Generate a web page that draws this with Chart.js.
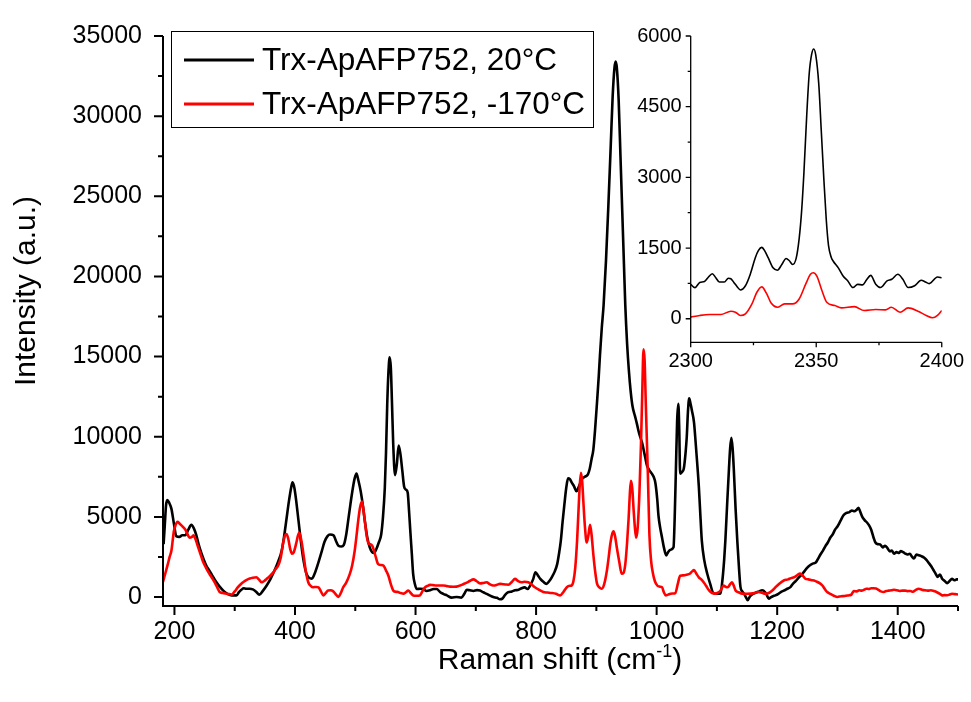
<!DOCTYPE html>
<html>
<head>
<meta charset="utf-8">
<title>Trx-ApAFP752 Raman spectra</title>
<script src="https://cdn.jsdelivr.net/npm/chart.js@4.4.1/dist/chart.umd.min.js"></script>
<style>
  body { margin: 0; background: #fff; }
  #wrap { position: relative; width: 971px; height: 702px; }
  #main { position: absolute; left: 0; top: 0; }
  #inset { position: absolute; left: 620px; top: 15px; }
</style>
</head>
<body>
<div id="wrap">
  <canvas id="main" width="971" height="702"></canvas>
  <canvas id="inset" width="351" height="360"></canvas>
</div>
<script>
// series labels
var seriesNames = ["Trx-ApAFP752, 20°C", "Trx-ApAFP752, -170°C"];

// main spectrum, 20 C (black)
var blackShift = [182,184,186,188,191,195,199,203,208,213,218,223,228,232,236,240,245,249,253,257,261,265,270,275,281,288,295,303,307,311,315,319,325,330,335,341,347,353,359,366,372,378,382,386,390,394,396,399,402,406,411,415,419,423,428,433,438,444,449,454,458,464,468,472,477,481,485,488,492,496,499,502,505,509,513,516,520,524,528,531,535,539,543,546,549,551,553,555,557,559,561,563,566,569,572,575,578,581,584,587,589,591,594,596,599,602,608,613,618,624,630,635,641,646,652,660,668,676,681,685,690,696,702,707,712,718,723,729,735,740,744,749,754,760,765,771,776,781,786,790,795,799,803,807,812,817,822,826,831,835,838,841,844,847,850,853,856,859,863,867,871,876,881,886,889,892,895,898,901,904,906,909,912,916,920,924,927,930,932,934,937,940,943,946,948,951,954,957,960,964,967,971,976,980,984,988,992,995,998,1001,1003,1006,1009,1012,1016,1019,1023,1028,1030,1032,1034,1036,1037.5,1039,1042,1045,1048,1050,1052,1054,1056,1059,1062,1064,1067,1070,1072,1075,1079,1084,1089,1094,1100,1106,1109,1112,1114,1117,1120,1122,1124,1126,1128,1131,1134,1137,1139,1142,1145,1148,1151,1155,1158,1161,1166,1170,1175,1180,1183,1186,1190,1193,1197,1202,1206,1211,1216,1222,1226,1231,1236,1241,1245,1250,1255,1260,1264,1268,1272,1276,1280,1284,1288,1292,1296,1300,1305,1310,1315,1320,1324,1328,1332,1335,1338,1341,1345,1349,1352,1356,1360,1363,1367,1371,1375,1379,1383,1387,1390,1394,1398,1402,1405,1409,1413,1416,1420,1424,1427,1431,1435,1439,1444,1448,1452,1455,1459,1463,1466,1470,1474,1478,1482,1486,1490,1494,1498,1500];
var blackIntensity = [3300,4500,5700,6050,5900,5500,4600,3800,3750,3850,3850,4200,4500,4300,3900,3300,2700,2300,1950,1700,1450,1200,900,650,400,200,100,100,300,450,550,520,520,480,350,150,400,720,1100,1650,2200,2900,3800,4900,6000,6900,7150,6800,6000,4700,3100,2100,1450,1200,1150,1500,2050,2800,3450,3800,3900,3850,3500,3200,3150,3250,3900,4700,5800,6800,7400,7700,7300,6600,5600,4700,3700,3100,2800,2750,3000,3400,3900,5000,6800,9000,12000,14000,14950,14300,12000,9500,7600,8300,9450,8900,7900,6900,6700,6500,5500,4300,2600,1450,800,500,520,500,380,420,500,500,300,200,100,-40,0,-40,200,450,420,380,430,410,300,200,100,0,-50,-140,-100,150,300,350,420,450,550,600,500,700,1100,1550,1350,1130,950,820,1000,1230,1600,2050,2700,3500,4700,5800,6800,7400,7350,7150,6900,6600,6900,7350,7500,7650,8000,8600,9200,10500,12100,13800,15100,16800,18200,21000,24500,28300,31200,33000,33400,33000,31000,27500,24000,20500,18200,15800,14100,12800,11900,11300,10850,10200,9600,8900,8200,7900,7700,7500,7100,6100,5100,4300,3700,3100,2600,2800,2950,3100,5000,8000,11000,12050,10500,7700,7800,8000,9000,10000,11600,12400,12100,11550,10900,10000,8500,6900,5500,3500,2300,1450,800,250,200,220,1000,2300,3500,5800,8000,9300,9930,9300,8000,5500,3400,1600,650,350,200,0,-200,50,150,210,300,350,420,300,100,-100,0,50,100,200,310,400,500,620,820,1000,1230,1400,1600,1840,2000,2100,2150,2400,2670,2900,3180,3400,3700,3900,4200,4400,4750,5100,5250,5300,5400,5350,5450,5570,5300,5020,4800,4650,4500,4200,3700,3400,3300,3280,3100,3200,3050,2850,2900,2700,2800,2750,2870,2800,2700,2650,2700,2500,2400,2650,2600,2550,2450,2300,2100,1950,1700,1450,1250,1400,1130,1000,870,1000,1130,1050,1100,1100];

// main spectrum, -170 C (red)
var redShift = [181,185,189,192,195,197,199,202,205,208,212,216,219,222,225,229,232,235,239,243,247,252,258,263,267,271,275,280,286,291,295,300,305,310,315,320,325,330,336,340,345,349,353,358,364,368,372,376,380,383,386,389,392,395,398,402,405,407,409,412,415,418,422,426,430,435,439,443,447,451,455,459,463,467,472,476,480,485,491,495,499,502,505,508,511,513,516,519,522,525,528,531,534,538,542,547,551,555,559,563,567,571,575,580,584,588,592,596,601,607,612,616,620,624,629,635,641,646,652,657,663,668,674,679,685,690,696,701,707,712,718,723,729,735,740,745,750,754,760,765,770,776,781,787,792,798,805,812,819,826,833,840,845,851,856,859,862,865,868,870.5,872.5,874.5,876.5,878.5,881,884,887,889.5,892,895,898,901,905,909,913,917.5,920.5,923,926,928.5,931,934,938,942,945,948,951,953.5,955.5,957.3,959.5,961.7,964,966,968.5,971.5,974,976,978.2,980,982,984,985.5,988,991,994,997,1001,1005,1009,1012,1015,1019,1023,1027,1031,1035,1039,1044,1050,1055,1059,1062,1066,1070,1074,1078,1082,1087,1092,1098,1102,1106,1111,1115,1118,1122,1125,1128,1131,1136,1142,1149,1156,1163,1169,1175,1180,1186,1192,1197,1203,1211,1218,1223,1228,1233,1238,1243,1247,1252,1257,1261,1266,1271,1275,1279,1283,1288,1294,1300,1306,1312,1318,1323,1327,1332,1336,1340,1344,1348,1352,1356,1360,1364,1368,1372,1377,1381,1385,1390,1394,1399,1403,1408,1412,1416,1421,1425,1430,1435,1440,1445,1450,1455,1460,1465,1470,1474,1478,1482,1486,1490,1495,1500];
var redIntensity = [950,1500,2050,2500,2900,3500,4100,4500,4700,4600,4450,4300,4150,3900,3700,3750,3850,3600,3150,2700,2250,1850,1440,1150,900,600,310,250,200,180,150,350,600,800,950,1070,1150,1200,1230,1100,920,1000,1130,1300,1540,1750,1950,2400,3300,3800,3930,3600,3000,2700,2800,3350,3850,4000,3800,3200,2400,1600,920,700,610,630,600,350,100,250,410,420,370,200,0,250,610,900,1440,2000,2870,3800,4800,5600,5950,5600,4700,3800,3350,3300,3200,2900,2500,2050,2000,1950,1650,1330,800,410,330,310,250,210,300,410,250,100,80,100,400,610,700,760,740,720,720,720,680,650,640,650,720,800,900,1000,1100,1000,850,880,920,800,720,760,820,800,780,770,950,1130,1000,920,950,920,800,610,450,310,280,250,200,100,300,610,700,720,1000,1840,3500,5500,7000,7750,7200,5900,4400,3400,3900,4500,3900,2650,1600,850,600,520,800,1650,2500,3280,3900,4100,3800,3070,2200,1450,1500,2050,3400,4900,6400,7250,6800,5500,4300,3700,4300,6550,9500,12500,15450,14800,12100,9500,7600,3900,2200,1450,1000,720,650,610,300,100,150,210,220,250,800,1330,1350,1390,1450,1600,1680,1450,1230,1100,920,700,410,250,210,280,410,720,620,610,800,920,700,410,300,210,200,210,250,310,260,210,250,410,600,820,1030,1100,1180,1230,1350,1470,1300,1130,1100,1050,1030,950,850,720,500,310,200,80,0,50,60,100,150,370,350,420,400,450,520,500,550,550,530,450,350,310,380,400,420,450,420,380,400,400,370,380,330,450,520,460,420,400,420,370,300,200,100,120,110,150,200,180,160];

// inset, 2300-2400 cm-1
var insetBlackShift = [2300,2301.7,2303.6,2305.5,2307,2308.6,2310,2311.4,2313.4,2315,2316,2317.2,2318.5,2319.8,2321.8,2323.7,2325.7,2327,2328.3,2329.6,2330.9,2332.8,2334.5,2336.3,2338,2339.3,2340.6,2342,2343.2,2344.2,2345.1,2346.2,2347.2,2348.2,2349,2349.8,2351,2352,2353,2354,2354.9,2356,2356.8,2358.8,2360.7,2362.6,2364.6,2366.5,2368.5,2370,2371.7,2373.7,2375.6,2378.2,2380.1,2382.5,2384.5,2386.6,2389.2,2391.8,2393.5,2395,2398.3,2400];
var insetBlackIntensity = [730,660,770,790,880,955,870,780,780,860,850,770,680,610,700,940,1290,1450,1515,1430,1290,1080,1030,1150,1278,1230,1150,1280,1700,2300,3100,4300,5200,5620,5725,5600,4990,4000,3000,2100,1550,1300,1220,1080,907,802,662,730,718,820,920,733,662,802,837,943,837,662,700,817,780,746,886,870];
var insetRedShift = [2300,2303.6,2307.5,2312,2316,2317.8,2319.8,2321.8,2324.4,2326.3,2328.3,2330.2,2332.1,2334.5,2337.4,2340.6,2343.2,2345.8,2347.7,2348.8,2350.3,2352.3,2354.2,2357.4,2360,2365.2,2369.1,2373.7,2377.6,2379.9,2383.4,2386.6,2390.5,2393.8,2396.3,2398.3,2400];
var insetRedIntensity = [35,70,90,90,160,140,70,105,315,557,676,537,327,243,315,315,419,733,943,976,900,593,348,279,230,258,174,195,188,243,139,230,160,70,20,70,174];

// tick values
var xTicks = [200, 400, 600, 800, 1000, 1200, 1400];
var xMinorTicks = [300, 500, 700, 900, 1100, 1300, 1500];
var yTicks = [0, 5000, 10000, 15000, 20000, 25000, 30000, 35000];
var yMinorTicks = [2500, 7500, 12500, 17500, 22500, 27500, 32500];
var insetXTicks = [2300, 2350, 2400];
var insetXMinorTicks = [2325, 2375];
var insetYTicks = [0, 1500, 3000, 4500, 6000];
var insetYMinorTicks = [750, 2250, 3750, 5250];

var fontFamily = "'Liberation Sans', Arial, sans-serif";

function toPoints(xs, ys) {
  var pts = [];
  for (var i = 0; i < xs.length; i++) {
    pts.push({ x: xs[i], y: ys[i] });
  }
  return pts;
}

function fixedTicks(list) {
  return function(scale) {
    scale.ticks = list.map(function(v) { return { value: v }; });
  };
}

// axis lines + outward major/minor tick marks
var axisTicksPlugin = {
  id: 'axisTicks',
  afterDraw: function(chart, args, opts) {
    var ctx = chart.ctx, a = chart.chartArea;
    var sx = chart.scales.x, sy = chart.scales.y;
    ctx.save();
    ctx.strokeStyle = '#000';
    ctx.lineWidth = opts.width;
    ctx.beginPath();
    ctx.moveTo(a.left, a.top);
    ctx.lineTo(a.left, a.bottom);
    ctx.lineTo(a.right, a.bottom);
    ctx.stroke();
    ctx.beginPath();
    opts.xMajor.forEach(function(v) {
      var p = sx.getPixelForValue(v);
      ctx.moveTo(p, a.bottom); ctx.lineTo(p, a.bottom + opts.major);
    });
    opts.xMinor.forEach(function(v) {
      var p = sx.getPixelForValue(v);
      ctx.moveTo(p, a.bottom); ctx.lineTo(p, a.bottom + opts.minor);
    });
    opts.yMajor.forEach(function(v) {
      var p = sy.getPixelForValue(v);
      ctx.moveTo(a.left, p); ctx.lineTo(a.left - opts.major, p);
    });
    opts.yMinor.forEach(function(v) {
      var p = sy.getPixelForValue(v);
      ctx.moveTo(a.left, p); ctx.lineTo(a.left - opts.minor, p);
    });
    ctx.stroke();
    ctx.restore();
  }
};

// legend box and axis titles of the main chart
var mainDecorPlugin = {
  id: 'mainDecor',
  afterDraw: function(chart) {
    var ctx = chart.ctx;
    ctx.save();
    ctx.fillStyle = '#000';

    // legend
    ctx.strokeStyle = '#000';
    ctx.lineWidth = 1;
    ctx.strokeRect(171.5, 31.5, 422, 96);
    var rows = [60, 104];
    chart.data.datasets.forEach(function(ds, i) {
      ctx.strokeStyle = ds.borderColor;
      ctx.lineWidth = 3;
      ctx.beginPath();
      ctx.moveTo(184, rows[i]);
      ctx.lineTo(254, rows[i]);
      ctx.stroke();
      ctx.font = '31.5px ' + fontFamily;
      ctx.textAlign = 'left';
      ctx.textBaseline = 'middle';
      ctx.fillText(ds.label, 262, rows[i] + 1);
    });

    // y title
    ctx.save();
    ctx.translate(27, 291);
    ctx.rotate(-Math.PI / 2);
    ctx.font = '30px ' + fontFamily;
    ctx.textAlign = 'center';
    ctx.textBaseline = 'middle';
    ctx.fillText('Intensity (a.u.)', 0, 0);
    ctx.restore();

    // x title with superscript
    var partA = 'Raman shift (cm', sup = '-1', partB = ')';
    ctx.textAlign = 'left';
    ctx.textBaseline = 'alphabetic';
    ctx.font = '30px ' + fontFamily;
    var wa = ctx.measureText(partA).width, wb = ctx.measureText(partB).width;
    ctx.font = '18px ' + fontFamily;
    var ws = ctx.measureText(sup).width;
    var x0 = 560 - (wa + ws + wb) / 2, base = 669;
    ctx.font = '30px ' + fontFamily;
    ctx.fillText(partA, x0, base);
    ctx.font = '18px ' + fontFamily;
    ctx.fillText(sup, x0 + wa, base - 12);
    ctx.font = '30px ' + fontFamily;
    ctx.fillText(partB, x0 + wa + ws, base);
    ctx.restore();
  }
};

Chart.defaults.font.family = fontFamily;
Chart.defaults.color = '#000';

var mainChart = new Chart(document.getElementById('main'), {
  type: 'line',
  data: {
    datasets: [
      {
        label: seriesNames[0],
        data: toPoints(blackShift, blackIntensity),
        borderColor: '#000000',
        borderWidth: 2.6,
        pointRadius: 0,
        cubicInterpolationMode: 'monotone',
        order: 2
      },
      {
        label: seriesNames[1],
        data: toPoints(redShift, redIntensity),
        borderColor: '#ff0000',
        borderWidth: 2.6,
        pointRadius: 0,
        cubicInterpolationMode: 'monotone',
        order: 1
      }
    ]
  },
  options: {
    responsive: false,
    animation: false,
    devicePixelRatio: 1,
    layout: { padding: { left: 0, top: 27, right: 13, bottom: 0 } },
    plugins: {
      legend: { display: false },
      tooltip: { enabled: false },
      axisTicks: {
        width: 2, major: 9, minor: 5,
        xMajor: xTicks, xMinor: xMinorTicks, yMajor: yTicks, yMinor: yMinorTicks
      }
    },
    scales: {
      x: {
        type: 'linear',
        min: 181,
        max: 1500,
        afterBuildTicks: fixedTicks(xTicks),
        afterFit: function(scale) { scale.height = 96; },
        grid: { display: false, drawTicks: false },
        border: { display: false },
        ticks: {
          autoSkip: false, maxRotation: 0, padding: 11,
          font: { size: 25 },
          callback: function(v) { return String(v); }
        }
      },
      y: {
        min: -560,
        max: 35000,
        afterBuildTicks: fixedTicks(yTicks),
        afterFit: function(scale) { scale.width = 163; },
        grid: { display: false, drawTicks: false },
        border: { display: false },
        ticks: {
          padding: 21,
          font: { size: 25 },
          callback: function(v) { return String(v); }
        }
      }
    }
  },
  plugins: [axisTicksPlugin, mainDecorPlugin]
});

var insetChart = new Chart(document.getElementById('inset'), {
  type: 'line',
  data: {
    datasets: [
      {
        label: seriesNames[0],
        data: toPoints(insetBlackShift, insetBlackIntensity),
        borderColor: '#000000',
        borderWidth: 1.6,
        pointRadius: 0,
        cubicInterpolationMode: 'monotone',
        order: 2
      },
      {
        label: seriesNames[1],
        data: toPoints(insetRedShift, insetRedIntensity),
        borderColor: '#ff0000',
        borderWidth: 1.6,
        pointRadius: 0,
        cubicInterpolationMode: 'monotone',
        order: 1
      }
    ]
  },
  options: {
    responsive: false,
    animation: false,
    devicePixelRatio: 1,
    layout: { padding: { left: 0, top: 16.7, right: 23.3, bottom: 0 } },
    plugins: {
      legend: { display: false },
      tooltip: { enabled: false },
      axisTicks: {
        width: 1.3, major: 5, minor: 3,
        xMajor: insetXTicks, xMinor: insetXMinorTicks, yMajor: insetYTicks, yMinor: insetYMinorTicks
      }
    },
    scales: {
      x: {
        type: 'linear',
        min: 2300,
        max: 2400,
        afterBuildTicks: fixedTicks(insetXTicks),
        afterFit: function(scale) { scale.height = 32.7; },
        grid: { display: false, drawTicks: false },
        border: { display: false },
        ticks: {
          autoSkip: false, maxRotation: 0, padding: 7,
          font: { size: 20 },
          callback: function(v) { return String(v); }
        }
      },
      y: {
        min: -500,
        max: 6000,
        afterBuildTicks: fixedTicks(insetYTicks),
        afterFit: function(scale) { scale.width = 70.7; },
        grid: { display: false, drawTicks: false },
        border: { display: false },
        ticks: {
          padding: 9,
          font: { size: 20 },
          callback: function(v) { return String(v); }
        }
      }
    }
  },
  plugins: [axisTicksPlugin]
});
</script>
</body>
</html>
